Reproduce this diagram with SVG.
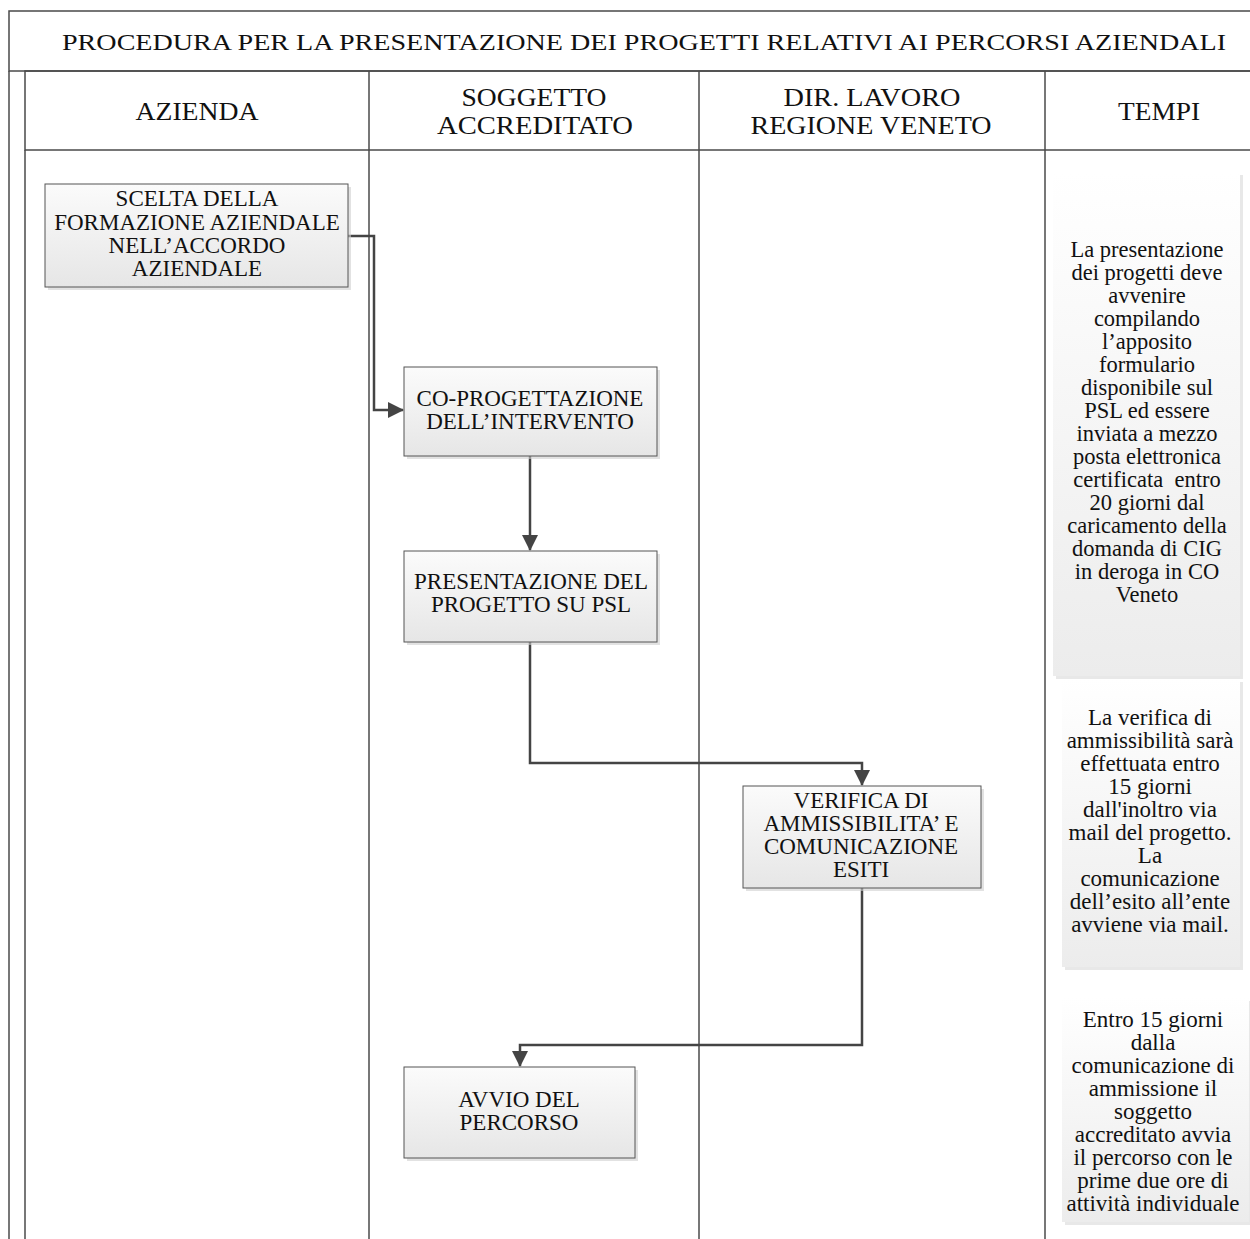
<svg xmlns="http://www.w3.org/2000/svg" width="1250" height="1239" viewBox="0 0 1250 1239">
<defs>
<style>
.frame{fill:none;stroke:#4a4a4a;stroke-width:1.5}
.lane{stroke:#4a4a4a;stroke-width:1.5;fill:none}
.box{fill:url(#gBox);stroke:#555;stroke-width:1}
.shadow{fill:#cfcfcf;opacity:0.6}
.tbox{fill:url(#gT);stroke:none}
.tsh{fill:#d8d8d8;opacity:0.6}
.t{font-family:"Liberation Serif","Times New Roman",serif;fill:#111;text-anchor:middle}
.title{font-size:24px}
.hdr{font-size:26px}
.bx{font-size:23px}
.t1{font-size:22.5px}
.t2{font-size:23px}
.conn{fill:none;stroke:#444;stroke-width:2.5}
</style>
<linearGradient id="gBox" x1="0" y1="0" x2="0" y2="1">
<stop offset="0" stop-color="#fbfbfb"/><stop offset="1" stop-color="#e6e6e6"/>
</linearGradient>
<linearGradient id="gHdr" x1="0" y1="0" x2="0" y2="1">
<stop offset="0" stop-color="#f4f4f4"/><stop offset="1" stop-color="#e0e0e0"/>
</linearGradient>
<linearGradient id="gTitle" x1="0" y1="0" x2="0" y2="1">
<stop offset="0" stop-color="#fdfdfd"/><stop offset="1" stop-color="#f0f0f0"/>
</linearGradient>
<linearGradient id="gT" x1="0" y1="0" x2="0" y2="1">
<stop offset="0" stop-color="#ffffff"/><stop offset="1" stop-color="#ececec"/>
</linearGradient>
<marker id="arr" viewBox="0 0 16 16" refX="15" refY="8" markerWidth="16" markerHeight="16" markerUnits="userSpaceOnUse" orient="auto">
<path d="M0,0 L16,8 L0,16 Z" fill="#444"/>
</marker>
</defs>
<rect width="1250" height="1239" fill="#fff"/>

<g id="frame">
<rect x="9" y="11" width="1260" height="60" fill="url(#gTitle)" class="frame"/>
<rect x="25" y="71" width="1250" height="79" fill="url(#gHdr)" class="frame"/>
<line class="lane" x1="9" y1="71" x2="9" y2="1239"/>
<line class="lane" x1="25" y1="150" x2="25" y2="1239"/>
<line class="lane" x1="369" y1="71" x2="369" y2="1239"/>
<line class="lane" x1="699" y1="71" x2="699" y2="1239"/>
<line class="lane" x1="1045" y1="71" x2="1045" y2="1239"/>
<text class="t title" x="644" y="50" textLength="1164" lengthAdjust="spacingAndGlyphs">PROCEDURA PER LA PRESENTAZIONE DEI PROGETTI RELATIVI AI PERCORSI AZIENDALI</text>
<text class="t hdr" x="197" y="120" textLength="123" lengthAdjust="spacingAndGlyphs">AZIENDA</text>
<text class="t hdr" x="534" y="106" textLength="145" lengthAdjust="spacingAndGlyphs">SOGGETTO</text>
<text class="t hdr" x="535" y="134" textLength="196" lengthAdjust="spacingAndGlyphs">ACCREDITATO</text>
<text class="t hdr" x="872" y="106" textLength="177" lengthAdjust="spacingAndGlyphs">DIR. LAVORO</text>
<text class="t hdr" x="871" y="134" textLength="241" lengthAdjust="spacingAndGlyphs">REGIONE VENETO</text>
<text class="t hdr" x="1159" y="120" textLength="82" lengthAdjust="spacingAndGlyphs">TEMPI</text>
</g>

<g id="connectors">
<path class="conn" d="M348,236 H374 V410 H403" marker-end="url(#arr)"/>
<path class="conn" d="M530,456 V550" marker-end="url(#arr)"/>
<path class="conn" d="M530,642 V763 H862 V785" marker-end="url(#arr)"/>
<path class="conn" d="M862,888 V1045 H520 V1066" marker-end="url(#arr)"/>
</g>

<g id="n1">
<rect class="shadow" x="48" y="187" width="303" height="103"/>
<rect class="box" x="45" y="184" width="303" height="103"/>
<text class="t bx" x="197" y="206">SCELTA DELLA</text>
<text class="t bx" x="197" y="230">FORMAZIONE AZIENDALE</text>
<text class="t bx" x="197" y="253">NELL’ACCORDO</text>
<text class="t bx" x="197" y="276">AZIENDALE</text>
</g>

<g id="n2">
<rect class="shadow" x="407" y="370" width="253" height="89"/>
<rect class="box" x="404" y="367" width="253" height="89"/>
<text class="t bx" x="530" y="406">CO-PROGETTAZIONE</text>
<text class="t bx" x="530" y="429">DELL’INTERVENTO</text>
</g>

<g id="n3">
<rect class="shadow" x="407" y="554" width="253" height="91"/>
<rect class="box" x="404" y="551" width="253" height="91"/>
<text class="t bx" x="531" y="589">PRESENTAZIONE DEL</text>
<text class="t bx" x="531" y="612">PROGETTO SU PSL</text>
</g>

<g id="n4">
<rect class="shadow" x="746" y="789" width="238" height="102"/>
<rect class="box" x="743" y="786" width="238" height="102"/>
<text class="t bx" x="861" y="808">VERIFICA DI</text>
<text class="t bx" x="861" y="831">AMMISSIBILITA’ E</text>
<text class="t bx" x="861" y="854">COMUNICAZIONE</text>
<text class="t bx" x="861" y="877">ESITI</text>
</g>

<g id="n5">
<rect class="shadow" x="407" y="1070" width="231" height="91"/>
<rect class="box" x="404" y="1067" width="231" height="91"/>
<text class="t bx" x="519" y="1107">AVVIO DEL</text>
<text class="t bx" x="519" y="1130">PERCORSO</text>
</g>

<g id="t1">
<rect class="tsh" x="1056" y="175" width="187" height="504"/>
<rect class="tbox" x="1053" y="172" width="187" height="504"/>
<text class="t t1" x="1147" y="257">La presentazione</text>
<text class="t t1" x="1147" y="280">dei progetti deve</text>
<text class="t t1" x="1147" y="303">avvenire</text>
<text class="t t1" x="1147" y="326">compilando</text>
<text class="t t1" x="1147" y="349">l’apposito</text>
<text class="t t1" x="1147" y="372">formulario</text>
<text class="t t1" x="1147" y="395">disponibile sul</text>
<text class="t t1" x="1147" y="418">PSL ed essere</text>
<text class="t t1" x="1147" y="441">inviata a mezzo</text>
<text class="t t1" x="1147" y="464">posta elettronica</text>
<text class="t t1" x="1147" y="487" xml:space="preserve">certificata  entro</text>
<text class="t t1" x="1147" y="510">20 giorni dal</text>
<text class="t t1" x="1147" y="533">caricamento della</text>
<text class="t t1" x="1147" y="556">domanda di CIG</text>
<text class="t t1" x="1147" y="579">in deroga in CO</text>
<text class="t t1" x="1147" y="602">Veneto</text>
</g>

<g id="t2">
<rect class="tsh" x="1065" y="682" width="178" height="288"/>
<rect class="tbox" x="1062" y="679" width="178" height="288"/>
<text class="t t2" x="1150" y="725">La verifica di</text>
<text class="t t2" x="1150" y="748">ammissibilità sarà</text>
<text class="t t2" x="1150" y="771">effettuata entro</text>
<text class="t t2" x="1150" y="794">15 giorni</text>
<text class="t t2" x="1150" y="817">dall'inoltro via</text>
<text class="t t2" x="1150" y="840">mail del progetto.</text>
<text class="t t2" x="1150" y="863">La</text>
<text class="t t2" x="1150" y="886">comunicazione</text>
<text class="t t2" x="1150" y="909">dell’esito all’ente</text>
<text class="t t2" x="1150" y="932">avviene via mail.</text>
</g>

<g id="t3">
<rect class="tsh" x="1065" y="1001" width="187" height="224"/>
<rect class="tbox" x="1062" y="998" width="187" height="224"/>
<text class="t t2" x="1153" y="1027">Entro 15 giorni</text>
<text class="t t2" x="1153" y="1050">dalla</text>
<text class="t t2" x="1153" y="1073">comunicazione di</text>
<text class="t t2" x="1153" y="1096">ammissione il</text>
<text class="t t2" x="1153" y="1119">soggetto</text>
<text class="t t2" x="1153" y="1142">accreditato avvia</text>
<text class="t t2" x="1153" y="1165">il percorso con le</text>
<text class="t t2" x="1153" y="1188">prime due ore di</text>
<text class="t t2" x="1153" y="1211">attività individuale</text>
</g>
</svg>
